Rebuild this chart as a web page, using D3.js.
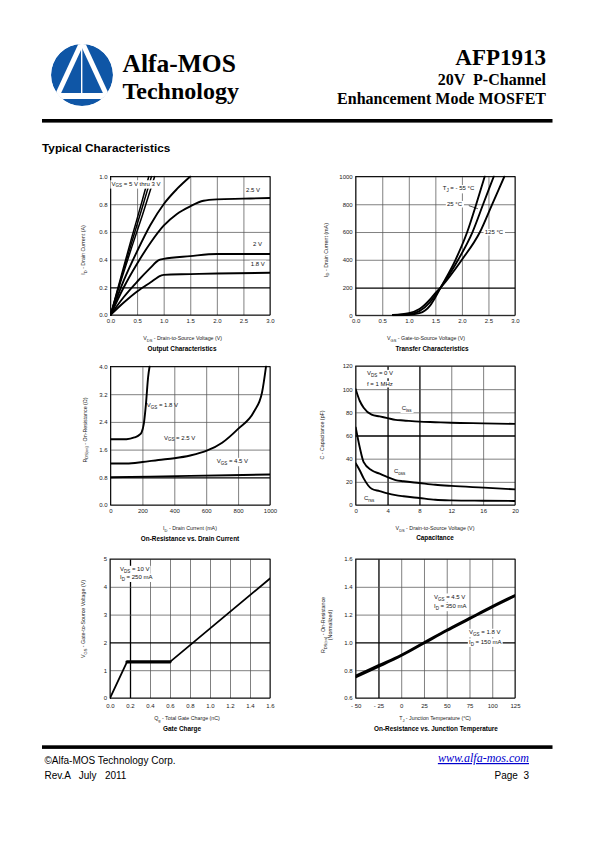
<!DOCTYPE html>
<html><head><meta charset="utf-8">
<script src="https://cdn.jsdelivr.net/npm/d3@7"></script>
<style>
html,body{margin:0;padding:0;background:#fff;}
svg{display:block;}
text{white-space:pre;}
</style></head><body>
<svg id="page" width="595" height="842"></svg>
<script>
// ---------- DATA ----------
// Output Characteristics (VDS [V], ID [A])
const outXTicks = [0,0.5,1,1.5,2,2.5,3];
const outXLabels = ["0.0","0.5","1.0","1.5","2.0","2.5","3.0"];
const outYTicks = [0,0.2,0.4,0.6,0.8,1.0];
const outYLabels = ["0.0","0.2","0.4","0.6","0.8","1.0"];
const outVgs5 = [[0,0],[0.2,0.28],[0.4,0.56],[0.6,0.83],[0.72,1.0]];
const outVgs4 = [[0,0],[0.2,0.265],[0.4,0.525],[0.6,0.78],[0.77,1.0]];
const outVgs3 = [[0,0],[0.2,0.25],[0.4,0.49],[0.6,0.72],[0.83,1.0]];
const outVgs3b = [[0,0],[0.25,0.25],[0.5,0.46],[0.75,0.65],[1.0,0.8],[1.25,0.91],[1.5,1.0]];
const outVgs25 = [[0,0],[0.25,0.2],[0.5,0.37],[0.75,0.52],[1.0,0.645],[1.25,0.73],[1.5,0.785],[1.75,0.825],[2.0,0.835],[2.5,0.84],[3.0,0.845]];
const outVgs2 = [[0,0],[0.25,0.13],[0.5,0.24],[0.75,0.34],[0.9,0.395],[1.0,0.405],[1.5,0.425],[2.0,0.44],[2.5,0.44],[3.0,0.44]];
const outVgs18 = [[0,0],[0.25,0.09],[0.5,0.17],[0.75,0.235],[0.95,0.285],[1.0,0.29],[1.5,0.295],[2.0,0.3],[3.0,0.305]];

// Transfer Characteristics (VGS [V], ID [mA])
const trXTicks = [0,0.5,1,1.5,2,2.5,3];
const trXLabels = ["0.0","0.5","1.0","1.5","2.0","2.5","3.0"];
const trYTicks = [0,200,400,600,800,1000];
const trYLabels = ["0","200","400","600","800","1000"];
const trTm55 = [[0.7,0],[1.0,3],[1.2,15],[1.4,70],[1.5,130],[1.6,200],[1.88,400],[2.1,600],[2.27,800],[2.43,1000]];
const trT25 = [[0.7,1],[1.0,8],[1.2,30],[1.4,95],[1.5,145],[1.6,200],[1.93,400],[2.2,600],[2.4,800],[2.6,1000]];
const trT125 = [[0.7,2],[1.0,15],[1.2,45],[1.4,115],[1.5,160],[1.6,200],[2.0,400],[2.34,600],[2.57,800],[2.8,1000]];

// On-Resistance vs Drain Current (ID [mA], RDS(on) [ohm])
const ronXTicks = [0,200,400,600,800,1000];
const ronXLabels = ["0","200","400","600","800","1000"];
const ronYTicks = [0,0.8,1.6,2.4,3.2,4.0];
const ronYLabels = ["0.0","0.8","1.6","2.4","3.2","4.0"];
const ronVgs18 = [[0,1.9],[100,1.9],[150,1.95],[180,2.02],[195,2.1],[209,2.35],[222,2.9],[236,3.7],[245,4.0]];
const ronVgs25 = [[0,1.2],[100,1.2],[200,1.24],[300,1.3],[400,1.35],[500,1.43],[600,1.56],[700,1.8],[800,2.2],[900,2.7],[950,3.25],[975,4.0]];
const ronVgs45 = [[0,0.8],[500,0.84],[1000,0.88]];

// Capacitance (VDS [V], C [pF])
const capXTicks = [0,4,8,12,16,20];
const capXLabels = ["0","4","8","12","16","20"];
const capYTicks = [0,20,40,60,80,100,120];
const capYLabels = ["0","20","40","60","80","100","120"];
const capCiss = [[0,100],[0.5,90],[1,84],[2,78],[3,76.5],[4,75],[5,73.5],[6,73],[8,72],[10,71.5],[12,71],[16,70.5],[20,70]];
const capCoss = [[0,67],[0.5,50],[1,37],[2,30],[3,27],[4,24],[5,21.5],[6,20.5],[8,19],[10,17.5],[12,16.5],[16,15],[20,13.5]];
const capCrss = [[0,36],[0.5,30],[1,23],[2,14],[3,12],[4,10],[5,8.5],[6,7.5],[8,6],[10,4.5],[12,4],[16,3.7],[20,3.5]];

// Gate Charge (Qg [nC], VGS [V])
const gcXTicks = [0,0.2,0.4,0.6,0.8,1.0,1.2,1.4,1.6];
const gcXLabels = ["0.0","0.2","0.4","0.6","0.8","1.0","1.2","1.4","1.6"];
const gcYTicks = [0,1,2,3,4,5];
const gcYLabels = ["0","1","2","3","4","5"];
const gcCurve = [[0,0],[0.17,1.3],[0.6,1.3],[1.6,4.3]];

// On-Resistance vs Junction Temperature (TJ [C], normalized)
const rtXTicks = [-50,-25,0,25,50,75,100,125];
const rtXLabels = ["- 50","- 25","0","25","50","75","100","125"];
const rtYTicks = [0.6,0.8,1.0,1.2,1.4,1.6];
const rtYLabels = ["0.6","0.8","1.0","1.2","1.4","1.6"];
const rtVgs45 = [[-50,0.76],[-25,0.835],[0,0.91],[25,1.0],[50,1.09],[75,1.175],[100,1.26],[125,1.34]];
const rtVgs18 = [[-50,0.75],[-25,0.825],[0,0.903],[25,0.993],[50,1.083],[75,1.168],[100,1.253],[125,1.333]];

// ---------- DRAWING ----------
const svg = d3.select("#page");
const SANS = "'Liberation Sans', Arial, Helvetica, sans-serif";
const SERIF = "'Liberation Serif', 'Times New Roman', Times, serif";

// rich text: parts starting with "_" are subscripts
function rich(t, parts, fs) {
  let shifted = false;
  parts.forEach(p => {
    if (p.startsWith("_")) {
      t.append("tspan").text(p.slice(1)).attr("font-size", fs * 0.75).attr("dy", fs * 0.3);
      shifted = true;
    } else {
      const s = t.append("tspan").text(p);
      if (shifted) { s.attr("dy", -fs * 0.3); shifted = false; }
    }
  });
  return t;
}

// ---------- Header ----------
const defs = svg.append("defs");
defs.append("clipPath").attr("id", "logoclip").append("circle").attr("cx", 82).attr("cy", 75).attr("r", 31);
const logo = svg.append("g").attr("clip-path", "url(#logoclip)");
logo.append("circle").attr("cx", 82).attr("cy", 75).attr("r", 31).attr("fill", "#0f56a6");
logo.append("line").attr("x1", 82).attr("y1", 42).attr("x2", 57).attr("y2", 96).attr("stroke", "#fff").attr("stroke-width", 5);
logo.append("line").attr("x1", 82).attr("y1", 42).attr("x2", 107).attr("y2", 96).attr("stroke", "#fff").attr("stroke-width", 5);
logo.append("line").attr("x1", 81.7).attr("y1", 46).attr("x2", 81.7).attr("y2", 95).attr("stroke", "#fff").attr("stroke-width", 1.4);
logo.append("rect").attr("x", 45).attr("y", 93).attr("width", 75).attr("height", 6).attr("fill", "#fff");

svg.append("text").attr("x", 122.5).attr("y", 71.5).attr("font-family", SERIF).attr("font-weight", "bold")
  .attr("font-size", 25.5).text("Alfa-MOS");
svg.append("text").attr("x", 122.5).attr("y", 98.5).attr("font-family", SERIF).attr("font-weight", "bold")
  .attr("font-size", 24).text("Technology");
svg.append("text").attr("x", 546).attr("y", 64.5).attr("text-anchor", "end").attr("font-family", SERIF)
  .attr("font-weight", "bold").attr("font-size", 23).text("AFP1913");
svg.append("text").attr("x", 546).attr("y", 85).attr("text-anchor", "end").attr("font-family", SERIF)
  .attr("font-weight", "bold").attr("font-size", 16).text("20V  P-Channel");
svg.append("text").attr("x", 546).attr("y", 104).attr("text-anchor", "end").attr("font-family", SERIF)
  .attr("font-weight", "bold").attr("font-size", 16).text("Enhancement Mode MOSFET");
svg.append("rect").attr("x", 42).attr("y", 119).attr("width", 510.5).attr("height", 3.6).attr("fill", "#000");

svg.append("text").attr("x", 42).attr("y", 152).attr("font-family", SANS).attr("font-weight", "bold")
  .attr("font-size", 11.8).text("Typical Characteristics");

// ---------- Chart helper ----------
let clipId = 0;
function chart(c) {
  const g = svg.append("g");
  const x = d3.scaleLinear().domain(c.xDomain).range([c.left, c.right]);
  const y = d3.scaleLinear().domain(c.yDomain).range([c.bottom, c.top]);
  const w = c.right - c.left, h = c.bottom - c.top;

  const gx = g.append("g").attr("transform", `translate(0,${c.bottom})`)
    .call(d3.axisBottom(x).tickValues(c.xTicks).tickSize(-h).tickPadding(c.xPad)
      .tickFormat((d, i) => c.xLabels[i]));
  gx.select(".domain").remove();
  gx.selectAll(".tick line")
    .attr("stroke", d => c.heavyX.includes(d) ? "#000" : "#555")
    .attr("stroke-width", d => c.heavyX.includes(d) ? 1.3 : 0.75);
  gx.selectAll(".tick text").attr("font-family", SANS).attr("font-size", 6).attr("fill", "#222");

  const gy = g.append("g").attr("transform", `translate(${c.left},0)`)
    .call(d3.axisLeft(y).tickValues(c.yTicks).tickSize(-w).tickPadding(3)
      .tickFormat((d, i) => c.yLabels[i]));
  gy.select(".domain").remove();
  gy.selectAll(".tick line")
    .attr("stroke", d => c.heavyY.includes(d) ? "#000" : "#555")
    .attr("stroke-width", d => c.heavyY.includes(d) ? 1.3 : 0.75);
  gy.selectAll(".tick text").attr("font-family", SANS).attr("font-size", 6).attr("fill", "#222");

  g.append("rect").attr("x", c.left).attr("y", c.top).attr("width", w).attr("height", h)
    .attr("fill", "none").attr("stroke", "#000").attr("stroke-width", 0.9);

  const id = "clip" + (clipId++);
  defs.append("clipPath").attr("id", id).append("rect")
    .attr("x", c.left).attr("y", c.top - 1).attr("width", w).attr("height", h + 2);
  const curves = g.append("g").attr("clip-path", `url(#${id})`);
  c.series.forEach(s => {
    const line = d3.line().x(d => x(d[0])).y(d => y(d[1]))
      .curve(s.linear ? d3.curveLinear : d3.curveMonotoneX);
    curves.append("path").attr("d", line(s.data)).attr("fill", "none")
      .attr("stroke", "#000").attr("stroke-width", s.width || 1.9)
      .attr("stroke-linejoin", "round").attr("stroke-linecap", "round");
  });

  (c.leaders || []).forEach(l => {
    g.append("line").attr("x1", x(l[0])).attr("y1", y(l[1])).attr("x2", x(l[2])).attr("y2", y(l[3]))
      .attr("stroke", "#000").attr("stroke-width", 0.7);
  });

  (c.labels || []).forEach(lb => {
    const lg = g.append("g");
    const t = lg.append("text").attr("x", x(lb.x)).attr("y", y(lb.y)).attr("dy", "0.35em")
      .attr("font-family", SANS).attr("font-size", lb.fs || 6).attr("fill", "#111");
    rich(t, lb.parts, lb.fs || 6);
    if (lb.bg !== false) {
      const bb = t.node().getBBox();
      lg.insert("rect", "text").attr("x", bb.x - 1.2).attr("y", bb.y - 0.3)
        .attr("width", bb.width + 2.4).attr("height", bb.height + 0.6).attr("fill", "#fff");
    }
  });

  // x-axis title
  const xt = g.append("text").attr("x", c.xTitleX).attr("y", c.bottom + c.xTitleDy).attr("dy", "0.35em")
    .attr("text-anchor", "middle").attr("font-family", SANS).attr("font-size", 5.3).attr("fill", "#222");
  rich(xt, c.xTitle, 5.3);
  // y-axis title(s)
  c.yTitles.forEach(yt => {
    const t = g.append("text").attr("transform", `translate(${yt.x},${yt.y}) rotate(-90)`)
      .attr("text-anchor", "middle").attr("dy", "0.35em").attr("font-family", SANS)
      .attr("font-size", 5.3).attr("fill", "#222");
    rich(t, yt.parts, 5.3);
  });
  // chart title
  g.append("text").attr("x", c.titleX).attr("y", c.bottom + c.titleDy).attr("dy", "0.35em")
    .attr("text-anchor", "middle").attr("font-family", SANS).attr("font-weight", "bold")
    .attr("font-size", 6.4).attr("fill", "#000").text(c.title);
}

// 1. Output Characteristics
chart({
  left: 110.5, right: 270, top: 176.5, bottom: 315,
  xDomain: [0, 3], yDomain: [0, 1],
  xTicks: outXTicks, xLabels: outXLabels, yTicks: outYTicks, yLabels: outYLabels,
  heavyX: [], heavyY: [0.2], xPad: 3.9,
  series: [{data: outVgs5, width: 1.5}, {data: outVgs4, width: 1.5}, {data: outVgs3, width: 1.5},
           {data: outVgs3b}, {data: outVgs25}, {data: outVgs2}, {data: outVgs18}],
  labels: [
    {x: 0.02, y: 0.95, parts: ["V", "_GS", " = 5 V thru 3 V"]},
    {x: 2.55, y: 0.9, parts: ["2.5 V"]},
    {x: 2.68, y: 0.51, parts: ["2 V"]},
    {x: 2.64, y: 0.37, parts: ["1.8 V"]}
  ],
  xTitle: ["V", "_DS", " - Drain-to-Source Voltage (V)"], xTitleX: 182.7, xTitleDy: 23.3,
  yTitles: [{x: 83.3, y: 250, parts: ["I", "_D", " - Drain Current (A)"]}],
  title: "Output Characteristics", titleX: 182, titleDy: 33.7
});

// 2. Transfer Characteristics
chart({
  left: 355.7, right: 515, top: 176.5, bottom: 315.3,
  xDomain: [0, 3], yDomain: [0, 1000],
  xTicks: trXTicks, xLabels: trXLabels, yTicks: trYTicks, yLabels: trYLabels,
  heavyX: [], heavyY: [200], xPad: 3.9,
  series: [{data: trTm55}, {data: trT25}, {data: trT125}],
  leaders: [[2.13, 790, 2.3, 768]],
  labels: [
    {x: 1.64, y: 916, parts: ["T", "_J", " = - 55 °C"]},
    {x: 1.72, y: 801, parts: ["25 °C"]},
    {x: 2.43, y: 599, parts: ["125 °C"]}
  ],
  xTitle: ["V", "_GS", " - Gate-to-Source Voltage (V)"], xTitleX: 426, xTitleDy: 23.3,
  yTitles: [{x: 326, y: 250, parts: ["I", "_D", " - Drain Current (mA)"]}],
  title: "Transfer Characteristics", titleX: 432, titleDy: 33.7
});

// 3. On-Resistance vs Drain Current
chart({
  left: 110.5, right: 270, top: 366.5, bottom: 505,
  xDomain: [0, 1000], yDomain: [0, 4],
  xTicks: ronXTicks, xLabels: ronXLabels, yTicks: ronYTicks, yLabels: ronYLabels,
  heavyX: [], heavyY: [0.8], xPad: 3.9,
  series: [{data: ronVgs18}, {data: ronVgs25}, {data: ronVgs45}],
  labels: [
    {x: 227, y: 2.89, parts: ["V", "_GS", " = 1.8 V"], bg: false},
    {x: 335, y: 1.95, parts: ["V", "_GS", " = 2.5 V"], bg: false},
    {x: 666, y: 1.27, parts: ["V", "_GS", " = 4.5 V"]}
  ],
  xTitle: ["I", "_D", " - Drain Current (mA)"], xTitleX: 190, xTitleDy: 23.3,
  yTitles: [{x: 85, y: 430, parts: ["R", "_DS(on)", " - On-Resistance (Ω)"]}],
  title: "On-Resistance vs. Drain Current", titleX: 190, titleDy: 33.3
});

// 4. Capacitance
chart({
  left: 355.7, right: 515, top: 366, bottom: 505,
  xDomain: [0, 20], yDomain: [0, 120],
  xTicks: capXTicks, xLabels: capXLabels, yTicks: capYTicks, yLabels: capYLabels,
  heavyX: [4, 8], heavyY: [60], xPad: 3.9,
  series: [{data: capCiss}, {data: capCoss}, {data: capCrss}],
  labels: [
    {x: 1.42, y: 113.9, parts: ["V", "_DS", " = 0 V"]},
    {x: 1.42, y: 104.4, parts: ["f = 1 MHz"]},
    {x: 5.78, y: 83.9, parts: ["C", "_iss"]},
    {x: 4.81, y: 29.1, parts: ["C", "_oss"]},
    {x: 1.04, y: 6.0, parts: ["C", "_rss"]}
  ],
  xTitle: ["V", "_DS", " - Drain-to-Source Voltage (V)"], xTitleX: 435, xTitleDy: 23.3,
  yTitles: [{x: 321.7, y: 435, parts: ["C - Capacitance (pF)"]}],
  title: "Capacitance", titleX: 435, titleDy: 32.8
});

// 5. Gate Charge
chart({
  left: 110, right: 270, top: 559, bottom: 698,
  xDomain: [0, 1.6], yDomain: [0, 5],
  xTicks: gcXTicks, xLabels: gcXLabels, yTicks: gcYTicks, yLabels: gcYLabels,
  heavyX: [0.2], heavyY: [2], xPad: 5.9,
  series: [{data: gcCurve, linear: true, width: 1.8}, {data: gcCurve.slice(1, 3), linear: true, width: 3.2}],
  labels: [
    {x: 0.1, y: 4.64, parts: ["V", "_DS", " = 10 V"]},
    {x: 0.1, y: 4.36, parts: ["I", "_D", " = 250 mA"]}
  ],
  xTitle: ["Q", "_g", " - Total Gate Charge (nC)"], xTitleX: 187, xTitleDy: 20.3,
  yTitles: [{x: 83.3, y: 619, parts: ["V", "_GS", " - Gate-to-Source Voltage (V)"]}],
  title: "Gate Charge", titleX: 182, titleDy: 31
});

// 6. On-Resistance vs Junction Temperature
chart({
  left: 355.7, right: 515, top: 559, bottom: 698,
  xDomain: [-50, 125], yDomain: [0.6, 1.6],
  xTicks: rtXTicks, xLabels: rtXLabels, yTicks: rtYTicks, yLabels: rtYLabels,
  heavyX: [-25], heavyY: [1.0], xPad: 5.9,
  series: [{data: rtVgs45, width: 2.2}, {data: rtVgs18, width: 2.2}],
  labels: [
    {x: 36, y: 1.329, parts: ["V", "_GS", " = 4.5 V"]},
    {x: 36, y: 1.262, parts: ["I", "_D", " = 350 mA"]},
    {x: 74.5, y: 1.075, parts: ["V", "_GS", " = 1.8 V"]},
    {x: 74.5, y: 1.005, parts: ["I", "_D", " = 150 mA"]}
  ],
  xTitle: ["T", "_J", " - Junction Temperature (°C)"], xTitleX: 435, xTitleDy: 20.3,
  yTitles: [{x: 323.3, y: 625, parts: ["R", "_DS(on)", " - On-Resistance"]},
            {x: 330.3, y: 625, parts: ["(Normalized)"]}],
  title: "On-Resistance vs. Junction Temperature", titleX: 436, titleDy: 31
});

// ---------- Footer ----------
svg.append("rect").attr("x", 42).attr("y", 745.3).attr("width", 510.5).attr("height", 3.6).attr("fill", "#000");
svg.append("text").attr("x", 44.5).attr("y", 764).attr("font-family", SANS).attr("font-size", 10)
  .text("©Alfa-MOS Technology Corp.");
svg.append("text").attr("x", 44.5).attr("y", 778.5).attr("font-family", SANS).attr("font-size", 10)
  .text("Rev.A   July   2011");
svg.append("text").attr("x", 529).attr("y", 762).attr("text-anchor", "end").attr("font-family", SERIF)
  .attr("font-style", "italic").attr("font-size", 12).attr("fill", "#0000cc")
  .attr("text-decoration", "underline").text("www.alfa-mos.com");
svg.append("text").attr("x", 529).attr("y", 778.5).attr("text-anchor", "end").attr("font-family", SANS)
  .attr("font-size", 10).text("Page  3");
</script>
</body></html>
